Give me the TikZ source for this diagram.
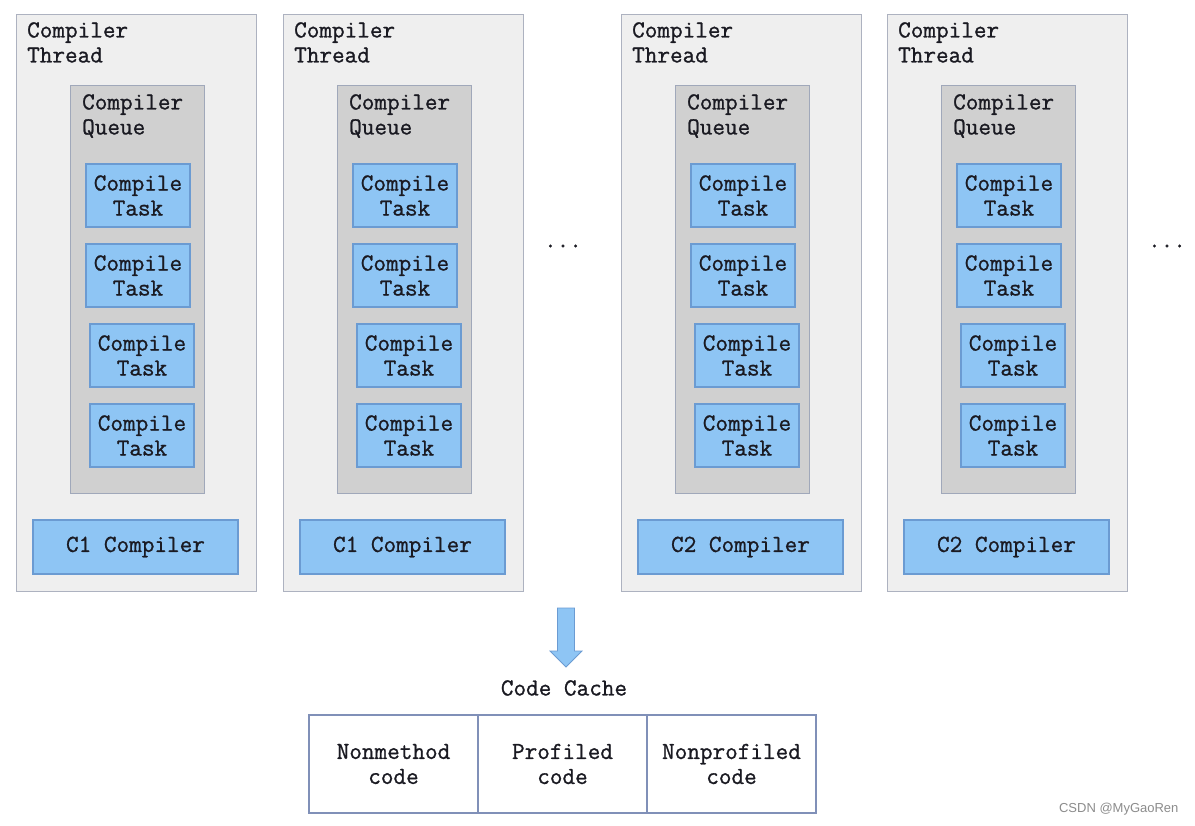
\documentclass[tikz,border=0pt]{standalone}
\usepackage{fontspec}
\setmainfont{Latin Modern Mono}[FakeBold=1]
\newfontfamily\wmfont{Liberation Sans}
\definecolor{threadfill}{HTML}{EFEFEF}
\definecolor{threadline}{HTML}{ADB2C0}
\definecolor{queuefill}{HTML}{D0D0D0}
\definecolor{queueline}{HTML}{A0A8BA}
\definecolor{taskfill}{HTML}{8EC5F4}
\definecolor{taskline}{HTML}{6B9BD2}
\definecolor{txt}{HTML}{1A1A22}
\definecolor{cacheline}{HTML}{8090B8}
\begin{document}
\begin{tikzpicture}[x=1pt,y=-1pt,
  font=\fontsize{24.5}{25}\selectfont, text=txt,
  threadbox/.style={draw=threadline, fill=threadfill, line width=1.3pt, minimum width=240, minimum height=577, anchor=north west, inner sep=0},
  queuebox/.style={draw=queueline, fill=queuefill, line width=1.3pt, minimum width=134, minimum height=408, anchor=north west, inner sep=0},
  tasklbl/.style={align=left, anchor=north west, inner sep=0},
  taskbox/.style={draw=taskline, fill=taskfill, line width=1.1pt, minimum width=104, minimum height=63, align=center, inner sep=0},
  compbox/.style={draw=taskline, fill=taskfill, line width=1.1pt, minimum width=205, minimum height=54, inner sep=0},
  cachecell/.style={draw=cacheline, fill=white, line width=1.1pt, minimum width=169, minimum height=98, align=center, inner sep=0},
  bigarrow/.style={draw=taskline, fill=taskfill, line width=0.8pt}
]
\useasboundingbox[fill=white] (0,0) rectangle (1195,826);

\foreach \i/\dx/\c in {1/0/C1, 2/267/C1, 3/605/C2, 4/871/C2}{
  \node[threadbox] (th\i) at (16+\dx,14) {};
  \node[tasklbl] (thl\i) at (27+\dx,22) {Compiler\\Thread};
  \node[queuebox] (q\i) at (70+\dx,85) {};
  \node[tasklbl] (ql\i) at (82+\dx,94) {Compiler\\Queue};
  \node[taskbox] (t\i a) at (138+\dx,195.5) {Compile\\Task};
  \node[taskbox] (t\i b) at (138+\dx,275.5) {Compile\\Task};
  \node[taskbox] (t\i c) at (142+\dx,355.5) {Compile\\Task};
  \node[taskbox] (t\i d) at (142+\dx,435.5) {Compile\\Task};
  \node[compbox] (c\i) at (135.5+\dx,547) {\c\ Compiler};
}

\node (dots1) at (563,246) {...};
\node (dots2) at (1167,246) {...};

\draw[bigarrow] (557.5,608) -- (574.5,608) -- (574.5,651) -- (582,651) -- (566,667) -- (550,651) -- (557.5,651) -- cycle;

\node (cc) at (564,688) {Code Cache};
\node[cachecell] (nm) at (393.5,764) {Nonmethod\\code};
\node[cachecell] (pc) at (562.5,764) {Profiled\\code};
\node[cachecell] (np) at (731.5,764) {Nonprofiled\\code};

\node[font=\wmfont\fontsize{13}{15}\selectfont, text=black!45, anchor=east] (wm) at (1182,809) {CSDN @MyGaoRen};
\end{tikzpicture}
\end{document}
